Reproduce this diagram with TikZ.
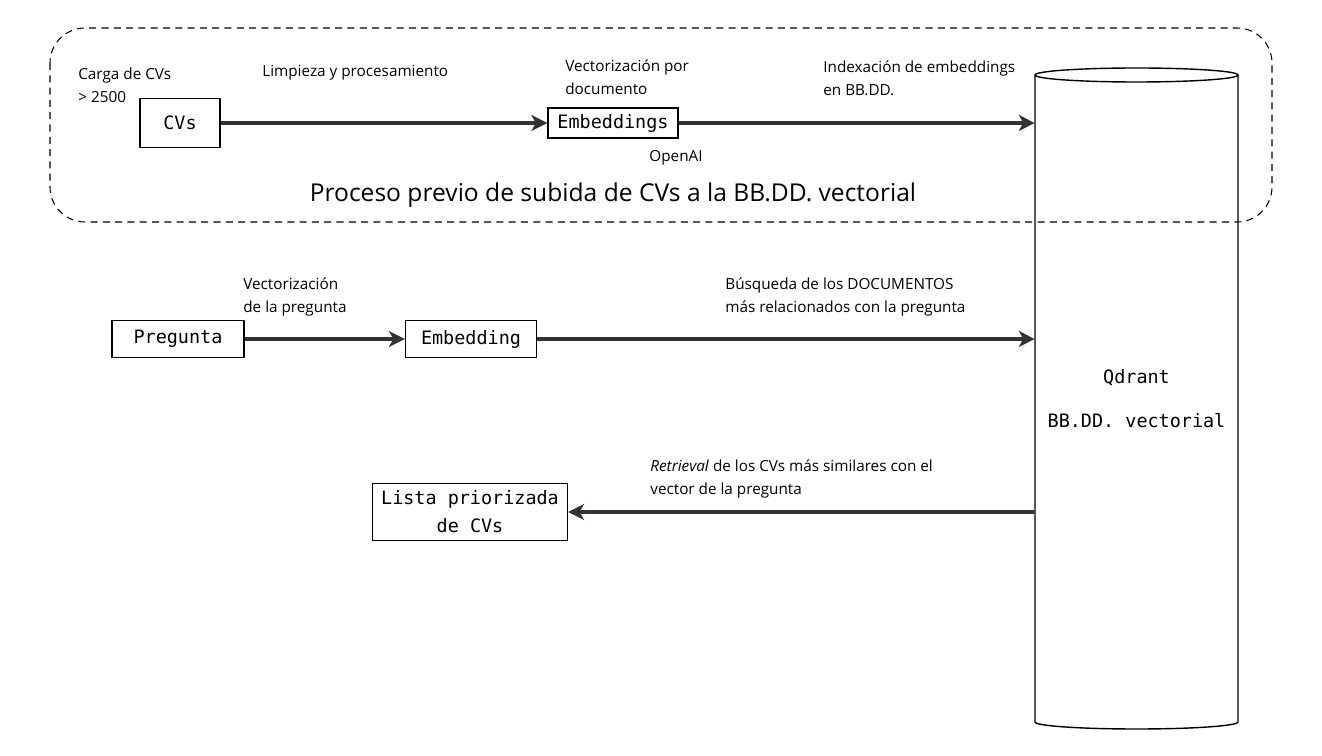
\documentclass[tikz,border=0pt]{standalone}
\usepackage{fontspec}
\setmainfont{Open Sans}
\newfontfamily\monofont{DejaVu Sans Mono}
\usetikzlibrary{arrows.meta, positioning}

\tikzset{
  box/.style={rectangle, draw, line width=0.8pt, font=\monofont\fontsize{10.5}{14}\selectfont, align=center},
  flow/.style={-{Stealth[length=9pt, width=9pt, inset=2.5pt]}, line width=2.3pt, draw=black!80},
  note/.style={font=\fontsize{8.7}{13}\selectfont, align=left, anchor=west, inner sep=0pt},
}

\begin{document}
\begin{tikzpicture}[x=0.02cm, y=-0.02cm]
            \useasboundingbox (0,0) rectangle (1322,756);

            % Frame of the upload process
            \draw[dash pattern=on 4pt off 3pt, rounded corners=0.7cm, line width=0.6pt] (50,28) rectangle (1272,222);

            % Vector database
            \draw[line width=0.8pt] (1035,75) -- (1035,722) arc[start angle=180, end angle=360, x radius=2.03cm, y radius=0.14cm] -- (1238,75);
            \draw[line width=0.8pt] (1136.5,75) ellipse [x radius=2.03cm, y radius=0.14cm];
            \node[font=\monofont\fontsize{10.5}{14}\selectfont, align=center, minimum width=4.06cm, minimum height=12.94cm] (db) at (1136.5,399) {Qdrant\\[11pt]BB.DD. vectorial};

            % Nodes
            \node[box, minimum width=1.6cm, minimum height=0.98cm] (cvs) at (180,123) {CVs};
            \node[box, minimum width=2.6cm, minimum height=0.6cm] (embs) at (613,123) {Embeddings};
            \node[box, minimum width=2.64cm, minimum height=0.74cm] (preg) at (178,339) {Pregunta};
            \node[box, minimum width=2.62cm, minimum height=0.74cm] (emb) at (471,339) {Embedding};
            \node[box, minimum width=3.9cm, minimum height=1.14cm] (lista) at (470,512) {Lista priorizada\\[2pt]de CVs};

            % Paths
            \draw[flow] (cvs) -- (embs);
            \draw[flow] (embs) -- (embs -| db.west);
            \draw[flow] (preg) -- (emb);
            \draw[flow] (emb) -- (emb -| db.west);
            \draw[flow] (db.west |- lista) -- (lista);

            % Labels
            \node[note] (carga) at (78,85) {Carga de CVs\\> 2500};
            \node[note] (limp) at (262,73) {Limpieza y procesamiento};
            \node[note] (vecdoc) at (565,77) {Vectorización por\\documento};
            \node[font=\fontsize{8.7}{13}\selectfont] (openai) at (676,158) {OpenAI};
            \node[note] (idx) at (823,78) {Indexación de embeddings\\en BB.DD.};
            \node[font=\fontsize{14}{16}\selectfont] (titulo) at (613,195) {Proceso previo de subida de CVs a la BB.DD. vectorial};
            \node[note] (vecpreg) at (243,297) {Vectorización\\de la pregunta};
            \node[note] (busq) at (725,297) {Búsqueda de los DOCUMENTOS\\más relacionados con la pregunta};
            \node[note] (retr) at (650,479) {\textit{Retrieval} de los CVs más similares con el\\vector de la pregunta};
\end{tikzpicture}
\end{document}
